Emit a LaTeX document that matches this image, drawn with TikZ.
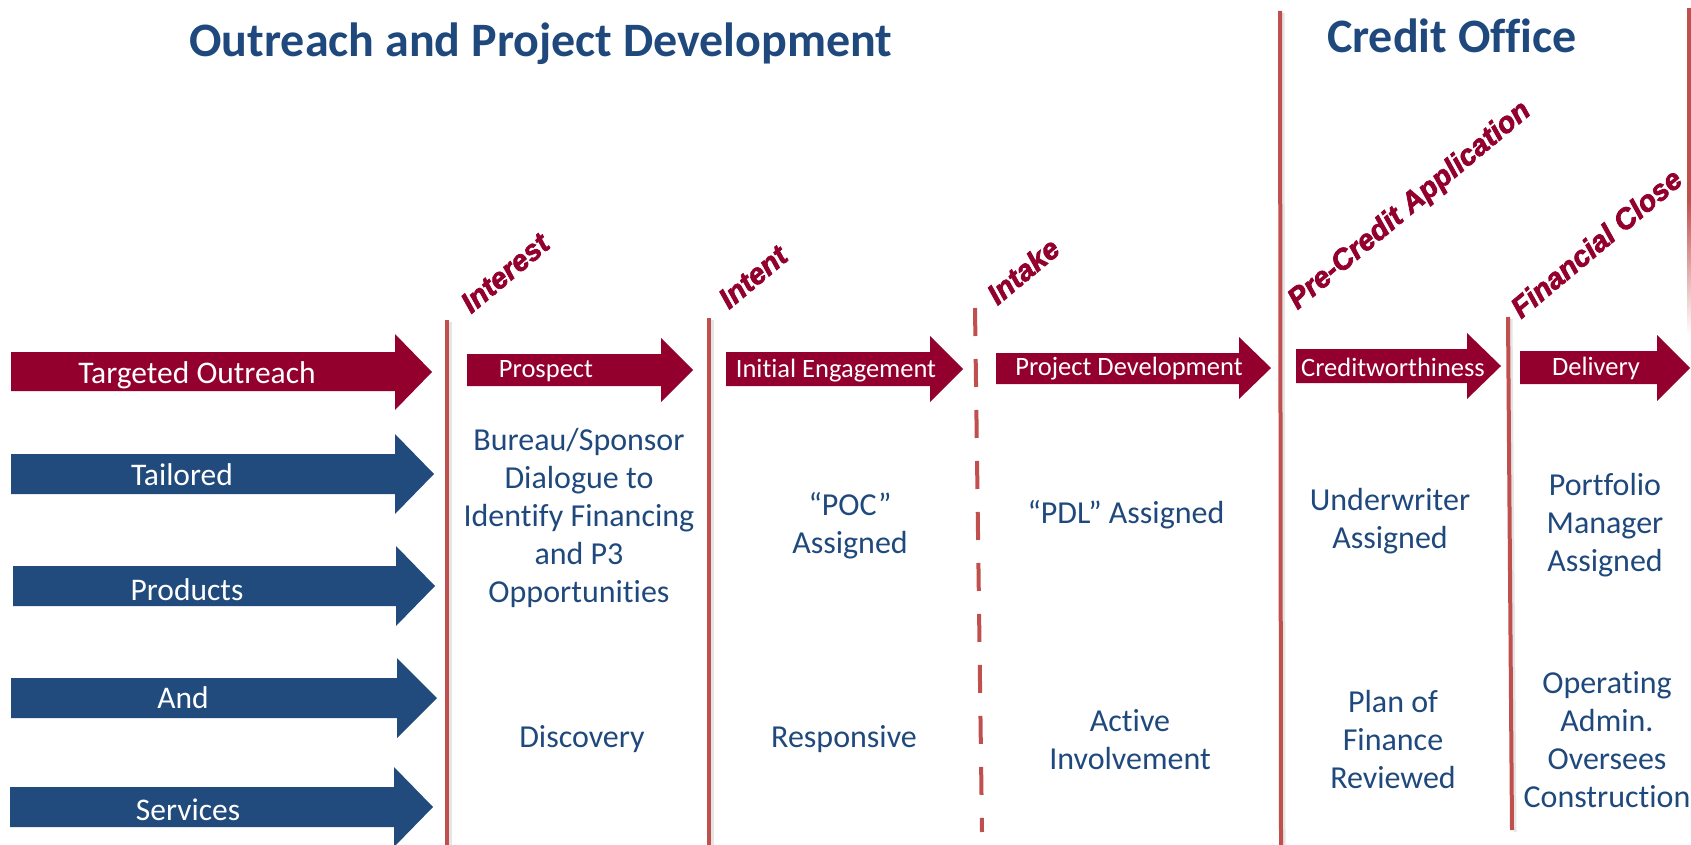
\documentclass[tikz,border=0pt]{standalone}
\usepackage{fontspec}
\setmainfont{Carlito}[Ligatures={TeX,NoCommon}]
\newfontfamily\stagefont{Liberation Sans}[UprightFont={* Bold Italic}, FakeBold=2.5]
\definecolor{outreachred}{RGB}{147,0,46}
\definecolor{productblue}{RGB}{33,74,125}
\definecolor{officeblue}{RGB}{31,73,125}
\definecolor{stageline}{RGB}{192,80,77}
\begin{document}
\begin{tikzpicture}[x=1pt, y=-1pt,
  redarrow/.style={fill=outreachred},
  bluearrow/.style={fill=productblue},
  arrowtext/.style={text=white, inner sep=0pt, anchor=base, font=\fontsize{26.5}{30}\selectfont},
  bigtext/.style={text=white, inner sep=0pt, anchor=base, font=\fontsize{31.5}{36}\selectfont},
  stage/.style={text=outreachred, rotate=40, inner sep=0pt, font=\stagefont\fontsize{29}{34}\selectfont},
  milestone/.style={stageline, line width=4pt},
  lineshadow/.style={black!10, line width=3pt},
  notes/.style={text=officeblue, align=center, inner sep=0pt, font=\fontsize{32}{38}\selectfont},
  heading/.style={text=officeblue, anchor=base, inner sep=0pt, font=\bfseries\fontsize{48}{56}\selectfont}]
  \useasboundingbox (0,0) rectangle (1691,845);
  % section titles
  \node[heading] (outreach) at (541,57) {Outreach and Project Development};
  \node[heading] (office) at (1452,53) {Credit Office};
  % stage lines
  \draw[lineshadow] (450,322) -- (450,845);
  \draw[lineshadow] (712,320) -- (712,845);
  \draw[lineshadow] (1283,13) -- (1284,845);
  \draw[lineshadow] (1511,319) -- (1515,832);
  \draw[milestone] (447,320) -- (447,845);
  \draw[milestone] (709,318) -- (709,845);
  \draw[milestone, dash pattern=on 28pt off 23pt] (975,308) -- (982,832);
  \draw[milestone] (1280,11) -- (1281,845);
  \draw[milestone] (1508,317) -- (1512,830);
  \draw[milestone] (1689,8) -- (1689,200);
  \shade[top color=stageline, bottom color=white] (1687,200) rectangle (1691,335);
  % stage names
  \node[stage] (interest) at (505,273) {Interest};
  \node[stage] (intent) at (753,277) {Intent};
  \node[stage] (intake) at (1023,271) {Intake};
  \node[stage] (precredit) at (1410,206) {Pre-Credit Application};
  \node[stage] (finclose) at (1596,243) {Financial Close};
  % left column arrows
  \fill[redarrow] (11,352) -- (395,352) -- (395,334) -- (432,372) -- (395,410) -- (395,391) -- (11,391) -- cycle;
  \node[bigtext] (targeted) at (197,383) {Targeted Outreach};
  \fill[bluearrow] (11,454) -- (395,454) -- (395,434) -- (434,474) -- (395,514) -- (395,494) -- (11,494) -- cycle;
  \node[bigtext] (tailored) at (182,485) {Tailored};
  \fill[bluearrow] (13,566) -- (396,566) -- (396,546) -- (435,586) -- (396,626) -- (396,606) -- (13,606) -- cycle;
  \node[bigtext] (products) at (187,600) {Products};
  \fill[bluearrow] (11,678) -- (397,678) -- (397,658) -- (437,698) -- (397,738) -- (397,718) -- (11,718) -- cycle;
  \node[bigtext] (and) at (183,708) {And};
  \fill[bluearrow] (10,787) -- (394,787) -- (394,767) -- (433,807) -- (394,847) -- (394,827) -- (10,827) -- cycle;
  \node[bigtext] (services) at (188,820) {Services};
  % stage arrows
  \fill[redarrow] (467,354) -- (661,354) -- (661,338) -- (693,370) -- (661,402) -- (661,386) -- (467,386) -- cycle;
  \node[arrowtext] (prospect) at (546,377) {Prospect};
  \fill[redarrow] (726,352) -- (930,352) -- (930,336) -- (963,369) -- (930,402) -- (930,386) -- (726,386) -- cycle;
  \node[arrowtext] (engagement) at (836,377) {Initial Engagement};
  \fill[redarrow] (996,353) -- (1239,353) -- (1239,337) -- (1271,368) -- (1239,399) -- (1239,384) -- (996,384) -- cycle;
  \node[arrowtext] (projdev) at (1129,375) {Project Development};
  \fill[redarrow] (1296,349) -- (1467,349) -- (1467,333) -- (1501,366) -- (1467,399) -- (1467,383) -- (1296,383) -- cycle;
  \node[arrowtext] (credit) at (1393,376) {Creditworthiness};
  \fill[redarrow] (1520,351) -- (1657,351) -- (1657,335) -- (1690,368) -- (1657,401) -- (1657,384) -- (1520,384) -- cycle;
  \node[arrowtext] (delivery) at (1596,375) {Delivery};
  % column notes
  \node[notes] (dialogue) at (579,518) {Bureau/Sponsor\\Dialogue to\\Identify Financing\\and P3\\Opportunities};
  \node[notes, anchor=base] (discovery) at (582,747) {Discovery};
  \node[notes] (poc) at (850,526) {“POC”\\Assigned};
  \node[notes, anchor=base] (responsive) at (844,747) {Responsive};
  \node[notes, anchor=base] (pdl) at (1126,523) {“PDL” Assigned};
  \node[notes] (active) at (1130,740) {Active\\Involvement};
  \node[notes] (underwriter) at (1390,521) {Underwriter\\Assigned};
  \node[notes] (planfinance) at (1393,739) {Plan of\\Finance\\Reviewed};
  \node[notes] (portfolio) at (1605,525) {Portfolio\\Manager\\Assigned};
  \node[notes] (operating) at (1607,740) {Operating\\Admin.\\Oversees\\Construction};
\end{tikzpicture}
\end{document}
